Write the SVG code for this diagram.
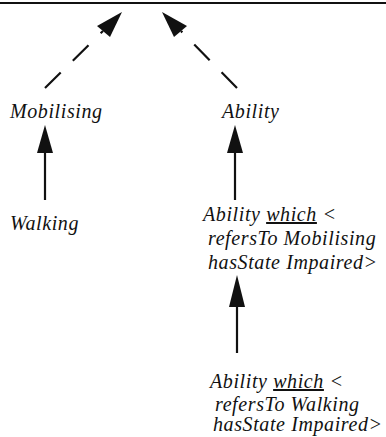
<svg xmlns="http://www.w3.org/2000/svg" width="386" height="437" viewBox="0 0 386 437">
<style>
text{font-family:"Liberation Serif","Times New Roman",serif;font-style:italic;font-size:20px;letter-spacing:0.6px;fill:#111}
.c{stroke:#111;stroke-width:2.2;fill:none}
.d{stroke-dasharray:22 17}
.h{fill:#111}
.u{text-decoration:underline}
</style>
<line x1="0" y1="3" x2="386" y2="3" stroke="#111" stroke-width="2"/>
<g id="connectors">
<path class="c d" d="M45 88 L103 31"/>
<path class="h" d="M122 12 L110 37 L97 26 Z"/>
<path class="c d" d="M237 88 L181 31"/>
<path class="h" d="M162 12 L187 26 L174 37 Z"/>
<path class="c" d="M45 200 L45 150"/>
<path class="h" d="M45 125 L53 153 L37 153 Z"/>
<path class="c" d="M235 200 L235 150"/>
<path class="h" d="M235 125 L243 153 L227 153 Z"/>
<path class="c" d="M237 353 L237 304"/>
<path class="h" d="M237 275 L245 307 L229 307 Z"/>
</g>
<g id="mobilising"><text x="10" y="118">Mobilising</text></g>
<g id="ability"><text x="222" y="118">Ability</text></g>
<g id="walking"><text x="10" y="230">Walking</text></g>
<g id="ability-mobilising">
<text x="203" y="221">Ability <tspan class="u">which</tspan> &lt;</text>
<text x="208" y="245">refersTo Mobilising</text>
<text x="208" y="269">hasState Impaired&gt;</text>
</g>
<g id="ability-walking">
<text x="210" y="388">Ability <tspan class="u">which</tspan> &lt;</text>
<text x="215" y="411">refersTo Walking</text>
<text x="213" y="431">hasState Impaired&gt;</text>
</g>
</svg>
